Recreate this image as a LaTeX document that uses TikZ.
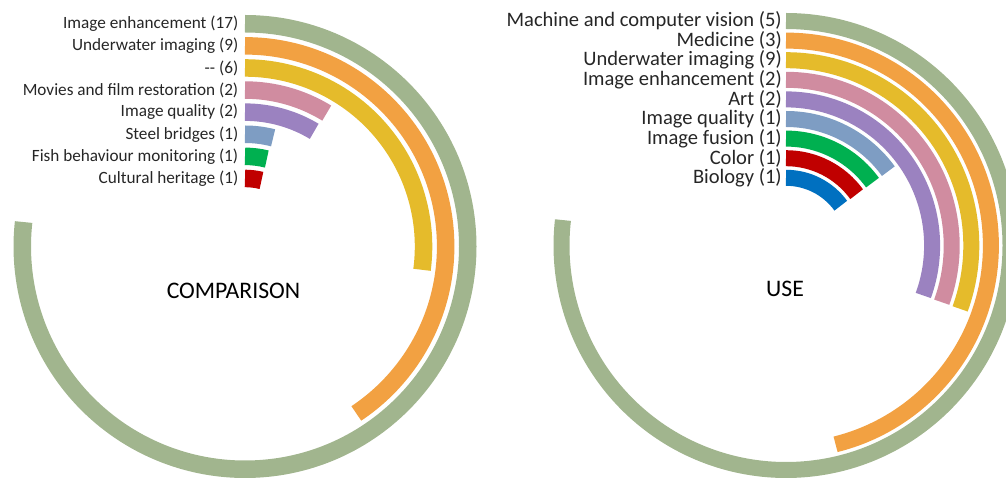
\documentclass[tikz,border=0pt]{standalone}
\usepackage{fontspec}
\setmainfont{Carlito}
\definecolor{cA}{HTML}{A1B58E}
\definecolor{cB}{HTML}{F2A142}
\definecolor{cC}{HTML}{E5BB2B}
\definecolor{cD}{HTML}{D08CA0}
\definecolor{cE}{HTML}{9B82C0}
\definecolor{cF}{HTML}{7E9DC3}
\definecolor{cG}{HTML}{00B050}
\definecolor{cH}{HTML}{C00000}
\definecolor{cI}{HTML}{0070C0}
\definecolor{txt}{HTML}{262626}
\tikzset{
  ringL/.style={line width=13.125pt},
  ringR/.style={line width=12pt},
  lblL/.style={anchor=east, inner sep=0pt, text=txt, font=\fontsize{12.9}{14}\selectfont},
  lblR/.style={anchor=east, inner sep=0pt, text=txt, font=\fontsize{15.4}{17}\selectfont},
  title/.style={inner sep=0pt, text=black, font=\fontsize{17.8}{20}\selectfont}
}
\begin{document}
\begin{tikzpicture}[x=0.75pt,y=0.75pt]
\useasboundingbox (0,0) rectangle (1006,478);
\clip (0,0) rectangle (1006,478);
% left chart
\coordinate (CL) at (245,231.5);
\foreach \i/\c/\s/\t in {
  0/cA/276.3/{Image enhancement (17)},
  1/cB/146.3/{Underwater imaging (9)},
  2/cC/97.5/{-{}- (6)},
  3/cD/31.5/{Movies and film restoration (2)},
  4/cE/31/{Image quality (2)},
  5/cF/14.5/{Steel bridges (1)},
  6/cG/14/{Fish behaviour monitoring (1)},
  7/cH/14/{Cultural heritage (1)}} {
  \pgfmathsetmacro\r{222.75-22.1*\i}
  \draw[ringL, \c] (CL) ++(90:\r) arc[start angle=90, end angle=90-\s, radius=\r];
  \node[lblL] (L\i) at (238.5, 231.5+\r) {\t};
}
\node[title] (tL) at (233.5,187.2) {COMPARISON};
% right chart
\coordinate (CR) at (786,232.5);
\foreach \i/\c/\s/\t in {
  0/cA/276.5/{Machine and computer vision (5)},
  1/cB/166/{Medicine (3)},
  2/cC/110/{Underwater imaging (9)},
  3/cD/110/{Image enhancement (2)},
  4/cE/110/{Art (2)},
  5/cF/54/{Image quality (1)},
  6/cG/54/{Image fusion (1)},
  7/cH/54/{Color (1)},
  8/cI/54/{Biology (1)}} {
  \pgfmathsetmacro\r{224.5-19.6*\i}
  \draw[ringR, \c] (CR) ++(90:\r) arc[start angle=90, end angle=90-\s, radius=\r];
  \node[lblR] (R\i) at (782, 232.5+\r) {\t};
}
\node[title] (tR) at (785,189) {USE};
\end{tikzpicture}
\end{document}
